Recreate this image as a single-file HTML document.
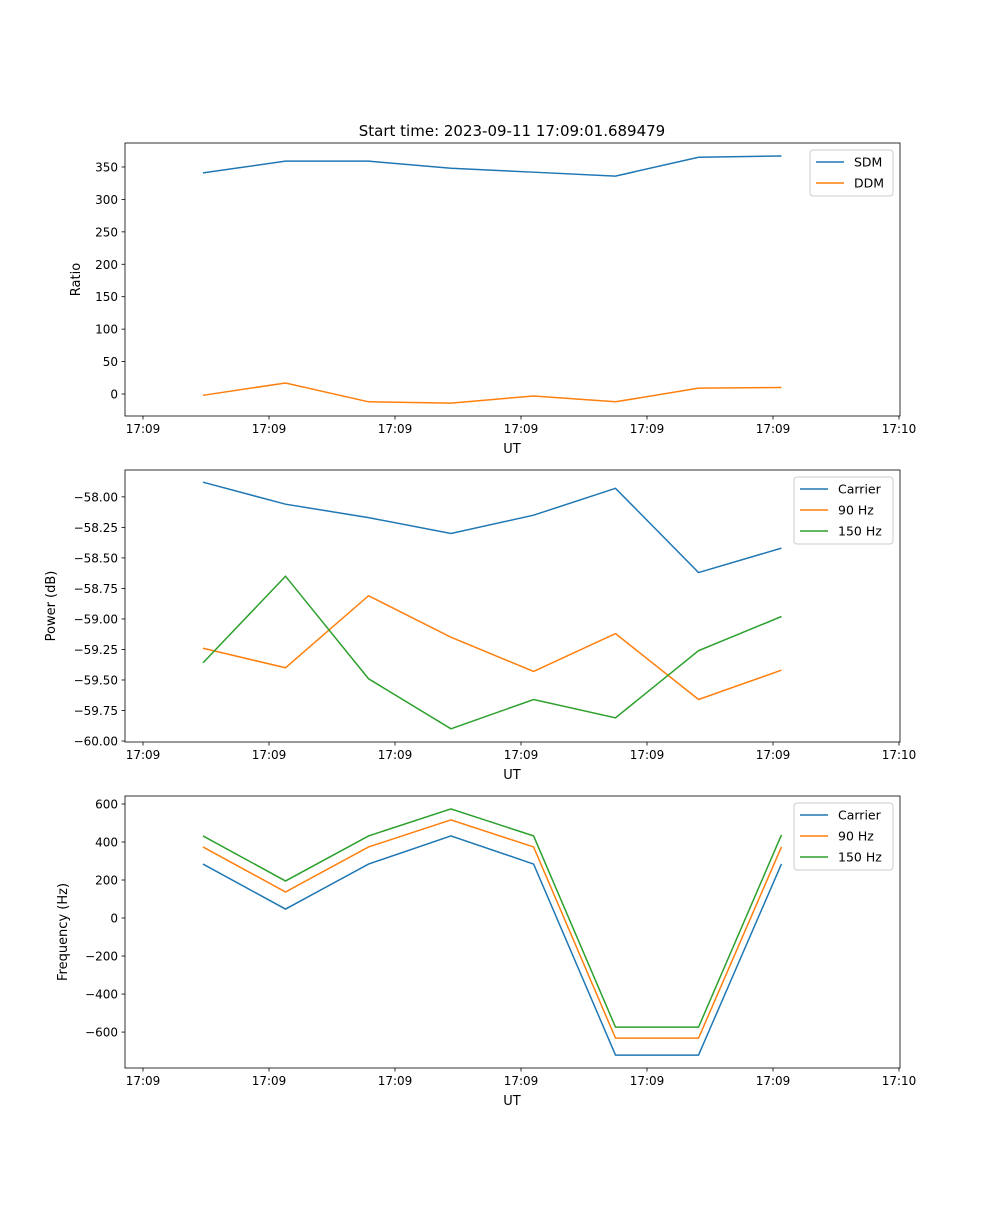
<!DOCTYPE html>
<html><head><meta charset="utf-8"><style>
body{margin:0;background:#fff;}
svg text{font-family:"DejaVu Sans","Liberation Sans",sans-serif;}
</style></head><body>
<svg id="c" width="1000" height="1200" xmlns="http://www.w3.org/2000/svg"></svg>
<script>
const xTimes=[0.476,1.131,1.790,2.444,3.100,3.750,4.409,5.067];
const xTickVals=[0,1,2,3,4,5,6];
const xTickLabels=["17:09","17:09","17:09","17:09","17:09","17:09","17:10"];
const sdm=[341,359,359,348,342,336,365,367];
const ddm=[-2,17,-12,-14,-3,-12,9,10];
const pCarrier=[-57.88,-58.06,-58.17,-58.30,-58.15,-57.93,-58.62,-58.42];
const p90=[-59.24,-59.40,-58.81,-59.15,-59.43,-59.12,-59.66,-59.42];
const p150=[-59.36,-58.65,-59.49,-59.90,-59.66,-59.81,-59.26,-58.98];
const fCarrier=[284,47,284,432,284,-721,-721,284];
const f90=[374,137,374,516,374,-632,-632,374];
const f150=[432,195,432,574,432,-574,-574,437];
const ticks1=[0,50,100,150,200,250,300,350];
const ticks2=[-60,-59.75,-59.5,-59.25,-59,-58.75,-58.5,-58.25,-58];
const ticks3=[-600,-400,-200,0,200,400,600];
const C=["#1f77b4","#ff7f0e","#2ca02c"];
const svg=document.getElementById('c');
const NS="http://www.w3.org/2000/svg";
function el(t,a,p){const e=document.createElementNS(NS,t);for(const k in a)e.setAttribute(k,a[k]);(p||svg).appendChild(e);return e;}
const L=125,R=900;
const xs=v=>143+v*126;
function panel(name,top,bot,ymin,ymax,yticks,fmt,ylabel,series,legW,legend){
  const g=el('g',{});
  
  
  const ys=v=>bot-(v-ymin)/(ymax-ymin)*(bot-top);
  series.forEach((s,i)=>{
    const p=el('polyline',{points:s.d.map((v,j)=>xs(xTimes[j])+','+ys(v)).join(' '),fill:'none',stroke:C[i],'stroke-width':1.5},g);
    
    
  });
  const f=el('rect',{x:L,y:top,width:R-L,height:bot-top,fill:'none',stroke:'#000','stroke-width':0.8},g);
  
  
  xTickVals.forEach((v,i)=>{
    el('line',{x1:xs(v),x2:xs(v),y1:bot,y2:bot+3.5,stroke:'#000','stroke-width':0.8},g);
    const t=el('text',{x:xs(v),y:bot+17,'font-size':12,'text-anchor':'middle'},g);t.textContent=xTickLabels[i];
    
    
  });
  yticks.forEach(v=>{
    el('line',{x1:L-3.5,x2:L,y1:ys(v),y2:ys(v),stroke:'#000','stroke-width':0.8},g);
    const t=el('text',{x:L-7,y:ys(v)+4.5,'font-size':12,'text-anchor':'end'},g);t.textContent=fmt(v);
    
    
  });
  const xl=el('text',{x:512,y:bot+37,'font-size':13,'text-anchor':'middle'},g);xl.textContent='UT';
  
  
  const lx=legend.x,cy=(top+bot)/2;
  const yl=el('text',{x:0,y:0,'font-size':13,'text-anchor':'middle',transform:`translate(${legend.yx},${cy}) rotate(-90)`},g);yl.textContent=ylabel;
  
  
  const lg=el('g',{},g);
  
  
  el('rect',{x:lx,y:top+7,width:legW,height:series.length*21+4,fill:'#fff',stroke:'#ccc',rx:3},lg);
  series.forEach((s,i)=>{
    const yy=top+19+i*21;
    el('line',{x1:lx+6,x2:lx+34,y1:yy,y2:yy,stroke:C[i],'stroke-width':1.5},lg);
    const t=el('text',{x:lx+44,y:yy+4.5,'font-size':12.5},lg);t.textContent=s.n;
    
    
  });
}
const title=el('text',{x:512,y:136,'font-size':15,'text-anchor':'middle'});title.textContent='Start time: 2023-09-11 17:09:01.689479';


panel('ratio-panel',143,416,-33.9,387,ticks1,v=>String(v),'Ratio',[{n:'SDM',d:sdm},{n:'DDM',d:ddm}],83,{x:810,yx:80});
panel('power-panel',470,742,-60.008,-57.78,ticks2,v=>(v<0?'\u2212':'')+Math.abs(v).toFixed(2),'Power (dB)',[{n:'Carrier',d:pCarrier},{n:'90 Hz',d:p90},{n:'150 Hz',d:p150}],99,{x:794,yx:55});
panel('frequency-panel',796,1068,-789,642,ticks3,v=>(v<0?'\u2212':'')+Math.abs(v),'Frequency (Hz)',[{n:'Carrier',d:fCarrier},{n:'90 Hz',d:f90},{n:'150 Hz',d:f150}],99,{x:794,yx:67});
</script>
</body></html>
